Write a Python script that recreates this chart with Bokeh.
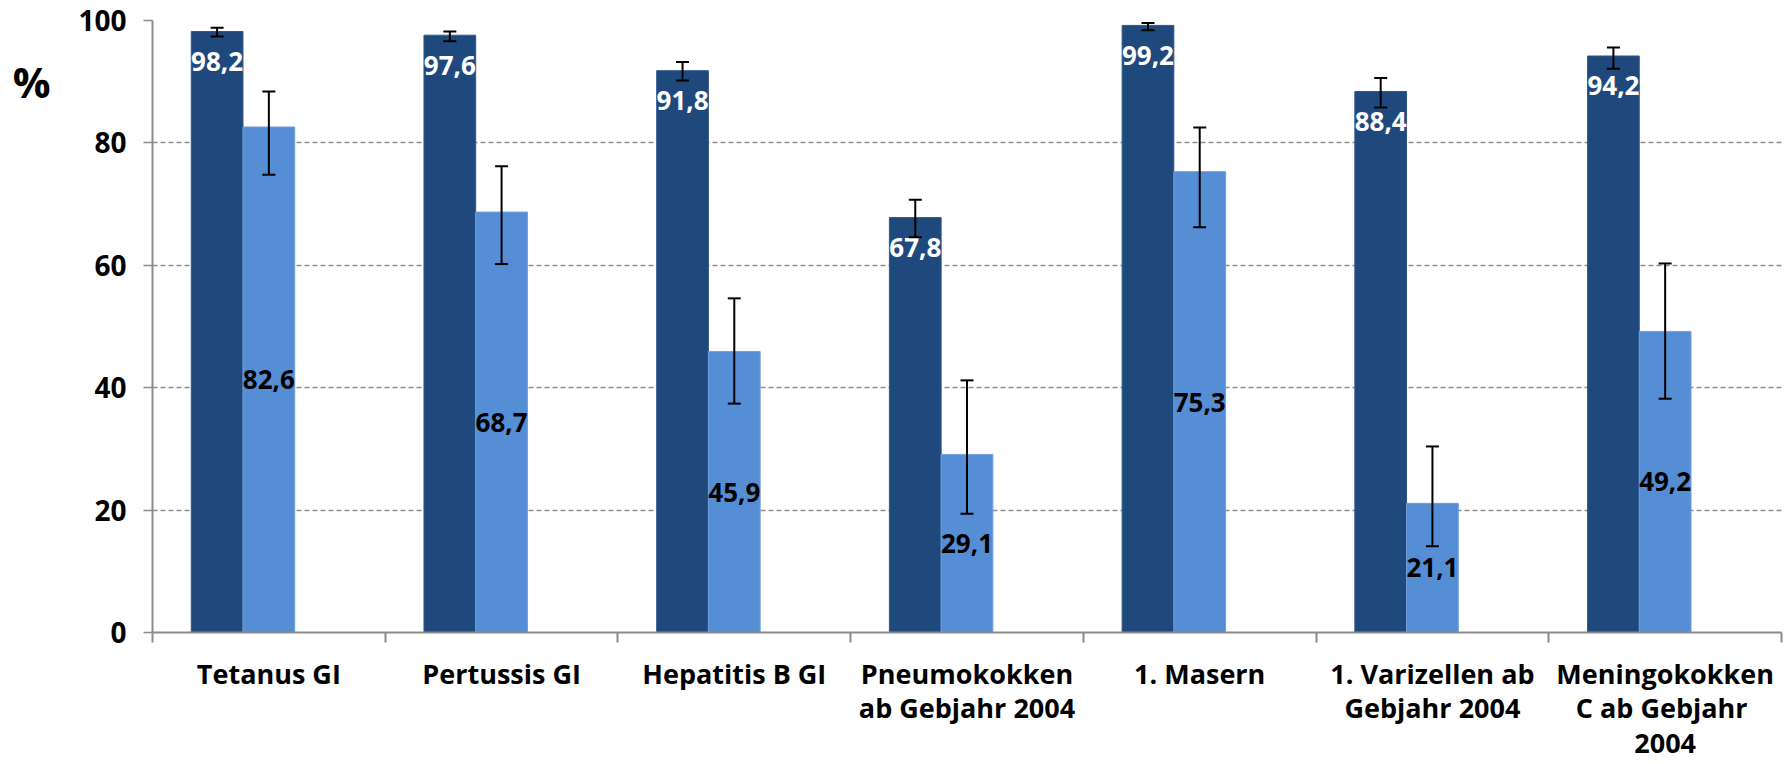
from bokeh.plotting import figure
from bokeh.models import (ColumnDataSource, Range1d, FixedTicker, Whisker, TeeHead, LinearAxis)
from bokeh.transform import dodge
from bokeh.core.properties import value
from bokeh.embed import file_html
from bokeh.resources import INLINE

categories = ["Tetanus GI", "Pertussis GI", "Hepatitis B GI", "Pneumokokken\nab Gebjahr 2004",
              "1. Masern", "1. Varizellen ab\nGebjahr 2004", "Meningokokken\nC  ab Gebjahr\n2004"]
series_a = [98.2, 97.6, 91.8, 67.8, 99.2, 88.4, 94.2]
series_a_lo = [97.4, 96.6, 90.2, 64.6, 98.4, 85.8, 92.1]
series_a_hi = [98.8, 98.2, 93.2, 70.7, 99.6, 90.6, 95.6]
series_b = [82.6, 68.7, 45.9, 29.1, 75.3, 21.1, 49.2]
series_b_lo = [74.8, 60.2, 37.4, 19.4, 66.2, 14.1, 38.2]
series_b_hi = [88.4, 76.2, 54.6, 41.2, 82.5, 30.4, 60.3]
y_ticks = [0, 20, 40, 60, 80, 100]
unit_label = "%"

FONT = "Open Sans"
DARK = "#1F497D"
LIGHT = "#558ED5"
GRID = "#8C8C8C"
BW = 0.2223

def fmt(v):
    return f"{v:.1f}".replace(".", ",")

n = len(categories)
src = ColumnDataSource(dict(
    x=[i + 0.5 for i in range(n)],
    a=series_a, alo=series_a_lo, ahi=series_a_hi,
    b=series_b, blo=series_b_lo, bhi=series_b_hi,
    bmid=[v / 2 for v in series_b],
    alab=[fmt(v) for v in series_a],
    blab=[fmt(v) for v in series_b],
))

p = figure(width=1784, height=764, output_backend="svg", toolbar_location=None,
           x_range=Range1d(0, n), y_range=Range1d(0, 100),
           min_border_left=152, min_border_top=20, min_border_bottom=131, min_border_right=3)
p.outline_line_color = None
p.background_fill_color = "white"
p.border_fill_color = "white"

p.vbar(x=dodge("x", -BW, range=p.x_range), top="a", width=BW, bottom=0, source=src,
       fill_color=DARK, line_color="#2E5A8E", line_width=1)
p.vbar(x="x", top="b", width=BW, bottom=0, source=src,
       fill_color=LIGHT, line_color="#6FA0DD", line_width=1)

p.text(x=dodge("x", -BW, range=p.x_range), y="a", text="alab", source=src,
       text_color="white", text_font=value(FONT), text_font_style="bold",
       text_font_size="26px", text_align="center", text_baseline="middle", y_offset=30)
p.text(x="x", y="bmid", text="blab", source=src,
       text_color="black", text_font=value(FONT), text_font_style="bold",
       text_font_size="26px", text_align="center", text_baseline="middle")

for base, lo, hi in [(dodge("x", -BW, range=p.x_range), "alo", "ahi"), ("x", "blo", "bhi")]:
    w = Whisker(source=src, base=base, lower=lo, upper=hi, dimension="height",
                line_color="black", line_width=2, level="overlay",
                upper_head=TeeHead(size=13, line_width=2, line_color="black"),
                lower_head=TeeHead(size=13, line_width=2, line_color="black"))
    p.add_layout(w)

# y axis
p.yaxis.ticker = FixedTicker(ticks=y_ticks)
p.yaxis.axis_line_color = GRID
p.yaxis.axis_line_width = 2
p.yaxis.major_tick_line_color = GRID
p.yaxis.major_tick_line_width = 1.5
p.yaxis.major_tick_out = 9
p.yaxis.major_tick_in = 0
p.yaxis.minor_tick_line_color = None
p.yaxis.major_label_text_font = FONT
p.yaxis.major_label_text_font_style = "bold"
p.yaxis.major_label_text_font_size = "28px"
p.yaxis.major_label_text_color = "black"
p.yaxis.major_label_standoff = 17

# "%" unit label as a second, line-less left axis
unit_axis = LinearAxis(ticker=FixedTicker(ticks=[90]), major_label_overrides={90: unit_label},
                       axis_line_color=None, major_tick_line_color=None, minor_tick_line_color=None,
                       major_tick_out=0, major_tick_in=0,
                       major_label_text_font=FONT, major_label_text_font_style="bold",
                       major_label_text_font_size="42px", major_label_text_color="black",
                       major_label_standoff=25)
p.add_layout(unit_axis, "left")

# x axis
centers = [i + 0.5 for i in range(n)]
p.xaxis.ticker = FixedTicker(ticks=centers, minor_ticks=list(range(n + 1)))
p.xaxis.major_label_overrides = {c: lab for c, lab in zip(centers, categories)}
p.xaxis.axis_line_color = GRID
p.xaxis.axis_line_width = 2
p.xaxis.major_tick_line_color = None
p.xaxis.major_tick_out = 0
p.xaxis.major_tick_in = 0
p.xaxis.minor_tick_line_color = GRID
p.xaxis.minor_tick_line_width = 2
p.xaxis.minor_tick_out = 10
p.xaxis.minor_tick_in = 0
p.xaxis.major_label_text_font = FONT
p.xaxis.major_label_text_font_style = "bold"
p.xaxis.major_label_text_font_size = "27px"
p.xaxis.major_label_text_line_height = 0.94
p.xaxis.major_label_text_color = "black"
p.xaxis.major_label_standoff = 12

p.xgrid.grid_line_color = None
p.ygrid.ticker = FixedTicker(ticks=y_ticks)
p.ygrid.grid_line_color = GRID
p.ygrid.grid_line_dash = "5 3"
p.ygrid.grid_line_width = 1.5

open("out.html", "w").write(file_html(p, INLINE))
